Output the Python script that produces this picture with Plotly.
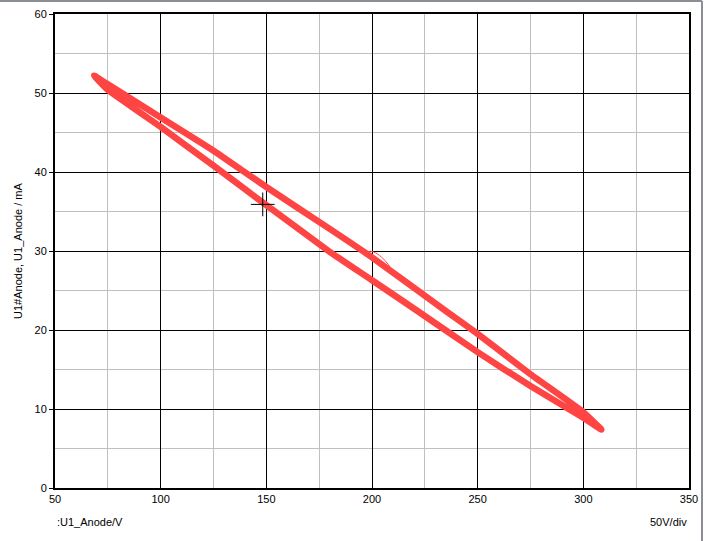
import plotly.graph_objects as go

# Loop (thick trace): upper branch left->right, lower branch right->left
v_upper = [68.5, 75, 100, 125, 150, 180, 200, 235, 250, 275, 300, 308.5]
i_upper = [52.2, 51.1, 46.9, 42.7, 38.1, 32.8, 29.2, 22.4, 19.5, 14.4, 9.6, 7.4]
v_lower = [308.5, 300, 275, 250, 221, 200, 180, 150, 125, 100, 75, 68.5]
i_lower = [7.4, 8.9, 12.9, 17.2, 22.5, 26.3, 29.9, 35.8, 40.8, 45.7, 50.4, 52.2]

# Thin trace (second signal), visible only where it departs from the thick loop
v_thin = [190, 195.2, 200.6, 204.6, 207.7, 210.1, 215]
i_thin = [31.0, 30.0, 29.9, 29.2, 28.3, 27.3, 26.3]

# Cursor
cursor_v = [148.3]
cursor_i = [35.9]

x_ticks = [50, 100, 150, 200, 250, 300, 350]
y_ticks = [0, 10, 20, 30, 40, 50, 60]

red = "#ff4444"
font = "Liberation Sans"

fig = go.Figure()
fig.add_trace(go.Scatter(
    x=v_upper + v_lower[1:], y=i_upper + i_lower[1:], mode="lines",
    line=dict(color=red, width=6.5, shape="spline", smoothing=0.4),
    hoverinfo="skip", showlegend=False))
fig.add_trace(go.Scatter(
    x=v_thin, y=i_thin, mode="lines",
    line=dict(color=red, width=1, shape="spline"),
    hoverinfo="skip", showlegend=False))
fig.add_trace(go.Scatter(
    x=cursor_v, y=cursor_i, mode="markers",
    marker=dict(symbol="cross-thin", size=17, line=dict(color="black", width=1)),
    hoverinfo="skip", showlegend=False))

axis_common = dict(
    showline=True, linecolor="black", linewidth=2, mirror=True,
    showgrid=True, gridcolor="black", gridwidth=1, zeroline=False,
    automargin=False,
    tickfont=dict(family=font, size=11, color="black"),
)

fig.update_xaxes(
    range=[50, 350], tickvals=x_ticks, ticktext=[str(t) for t in x_ticks],
    ticks="", minor=dict(dtick=25, tick0=50, showgrid=True, gridcolor="#c0c0c0", gridwidth=1),
    **axis_common)
fig.update_yaxes(
    range=[0, 60], tickvals=y_ticks, ticktext=[str(t) for t in y_ticks],
    ticks="outside", ticklen=4, tickcolor="black",
    minor=dict(dtick=5, tick0=0, showgrid=True, gridcolor="#c0c0c0", gridwidth=1),
    **axis_common)

txt = dict(family=font, size=11, color="black")
fig.update_layout(
    width=706, height=541,
    margin=dict(l=55, r=17, t=14, b=53),
    paper_bgcolor="white", plot_bgcolor="white",
    annotations=[
        dict(text=":U1_Anode/V", x=0, y=-0.0717, xref="paper", yref="paper",
             xanchor="left", yanchor="middle", showarrow=False, font=txt),
        dict(text="50V/div", x=1, y=-0.0717, xref="paper", yref="paper",
             xanchor="right", yanchor="middle", showarrow=False, font=txt),
        dict(text="U1#Anode, U1_Anode / mA", x=-0.0584, y=0.5, xref="paper", yref="paper",
             xanchor="center", yanchor="middle", textangle=-90, showarrow=False, font=txt),
    ],
    shapes=[
        dict(type="line", xref="paper", yref="paper", x0=1.0205, x1=1.0205, y0=-0.12, y1=1.0274,
             line=dict(color="#8a8f96", width=2)),
        dict(type="line", xref="paper", yref="paper", x0=-0.09, x1=1.0205, y0=1.0274, y1=1.0274,
             line=dict(color="#8a8f96", width=2)),
    ],
)

fig.write_html("out.html", config={"displayModeBar": False},
               post_script="document.body.style.margin='0';")
